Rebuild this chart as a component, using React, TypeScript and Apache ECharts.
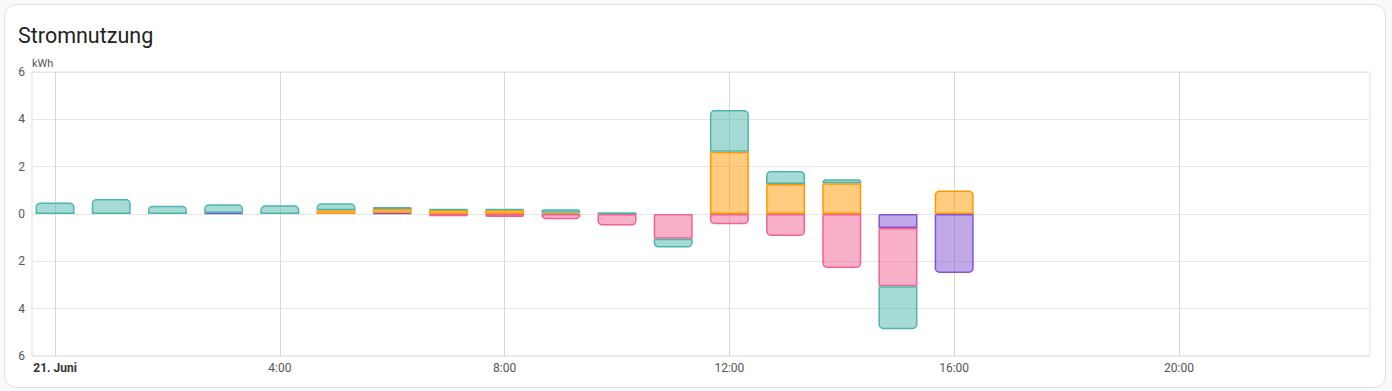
import { useEffect, useRef } from "react";
import * as echarts from "echarts";

const hourCategories = [
  "0", "1", "2", "3", "4", "5", "6", "7", "8", "9", "10", "11",
  "12", "13", "14", "15", "16", "17", "18", "19", "20", "21", "22", "23",
];
const purple = [0, 0, 0, 0.04, 0, 0, 0.04, 0, 0, 0, 0, 0, 0, 0, 0, -0.59, -2.49];
const orange = [0, 0, 0, 0, 0, 0.16, 0.17, 0.17, 0.17, 0.05, 0, 0, 2.63, 1.27, 1.3, 0, 0.99];
const pink = [0, 0, 0, 0, 0, 0, 0, -0.1, -0.13, -0.22, -0.49, -1.05, -0.43, -0.93, -2.28, -2.46, 0];
const tealUp = [0.49, 0.63, 0.35, 0.37, 0.37, 0.29, 0.09, 0.03, 0.04, 0.15, 0.07, 0, 1.76, 0.55, 0.17, 0, 0];
const tealDown = [0, 0, 0, 0, 0, 0, 0, 0, 0, 0, 0, -0.37, 0, 0, 0, -1.82, 0];
const xTicks = [0, 4, 8, 12, 16, 20];
const yTicks = [-6, -4, -2, 0, 2, 4, 6];
const dayLabel = "21. Juni";

const seriesDefs = [
  { name: "purple", values: purple, color: "#8353d1", fill: "rgba(131,83,209,0.5)" },
  { name: "orange", values: orange, color: "#ff9800", fill: "rgba(255,152,0,0.5)" },
  { name: "pink", values: pink, color: "#f06292", fill: "rgba(240,98,146,0.5)" },
  { name: "tealUp", values: tealUp, color: "#4db6ac", fill: "rgba(77,182,172,0.5)" },
  { name: "tealDown", values: tealDown, color: "#4db6ac", fill: "rgba(77,182,172,0.5)" },
];

// layout (pixels)
const W = 1392;
const GRID_LEFT = 32;
const GRID_RIGHT = 22;
const X_MIN = -0.41;
const X_MAX = 23.4;

export default function App() {
  const ref = useRef<HTMLDivElement>(null);
  useEffect(() => {
    const chart = echarts.init(ref.current!, null, { renderer: "svg" });
    const pxPerHour = (W - GRID_LEFT - GRID_RIGHT) / (X_MAX - X_MIN);
    const catLeft = GRID_LEFT + (-0.5 - X_MIN) * pxPerHour;
    const catRight = W - (catLeft + hourCategories.length * pxPerHour);

    const n = purple.length;
    const topIdx: number[] = [];
    const botIdx: number[] = [];
    for (let i = 0; i < n; i++) {
      topIdx[i] = -1;
      botIdx[i] = -1;
      seriesDefs.forEach((s, si) => {
        if (s.values[i] > 0) topIdx[i] = si;
        if (s.values[i] < 0) botIdx[i] = si;
      });
    }
    const series = seriesDefs.map((s, si) => ({
      name: s.name,
      type: "bar",
      stack: "usage",
      xAxisIndex: 1,
      yAxisIndex: 1,
      barWidth: 39,
      itemStyle: { color: s.fill, borderColor: s.color, borderWidth: 1.5 },
      data: s.values.map((v, i) => {
        if (!v) return "-";
        let r: number[] = [0, 0, 0, 0];
        if (v > 0 && topIdx[i] === si) r = [4, 4, 0, 0];
        if (v < 0 && botIdx[i] === si) r = [0, 0, 4, 4];
        return { value: v, itemStyle: { borderRadius: r } };
      }),
    }));
    chart.setOption({
      animation: false,
      textStyle: { fontFamily: "Roboto" },
      title: {
        text: "Stromnutzung",
        left: 18,
        top: 24,
        padding: 0,
        textStyle: { fontSize: 21.5, fontWeight: "normal", color: "#212121", fontFamily: "Roboto" },
      },
      graphic: [
        {
          type: "text",
          left: 32,
          top: 58,
          style: { text: "kWh", fontSize: 11, fill: "#555", fontFamily: "Roboto" },
        },
      ],
      grid: [
        {
          left: GRID_LEFT,
          right: GRID_RIGHT,
          top: 72,
          bottom: 35,
          show: true,
          borderColor: "#e0e0e0",
          borderWidth: 1,
        },
        { left: catLeft, right: catRight, top: 72, bottom: 35 },
      ],
      xAxis: [
        {
          type: "value",
          gridIndex: 0,
          min: X_MIN,
          max: X_MAX,
          axisLine: { show: false },
          axisTick: { show: false, customValues: xTicks },
          splitLine: { show: true, lineStyle: { color: "#d6d6d6" } },
          axisLabel: {
            customValues: xTicks,
            color: "#555",
            fontSize: 12,
            margin: 6,
            formatter: (v: number) => (v === 0 ? `{b|${dayLabel}}` : `${v}:00`),
            rich: { b: { fontWeight: "bold", color: "#333", fontSize: 12 } },
          },
        },
        {
          type: "category",
          gridIndex: 1,
          data: hourCategories,
          show: false,
        },
      ],
      yAxis: [
        {
          type: "value",
          gridIndex: 0,
          min: yTicks[0],
          max: yTicks[yTicks.length - 1],
          interval: 2,
          axisLine: { show: false },
          axisTick: { show: false },
          splitLine: { lineStyle: { color: "#e6e6e6" } },
          axisLabel: {
            color: "#555",
            fontSize: 12,
            margin: 7,
            formatter: (v: number) => String(Math.abs(v)),
          },
        },
        {
          type: "value",
          gridIndex: 1,
          min: yTicks[0],
          max: yTicks[yTicks.length - 1],
          interval: 2,
          show: false,
          splitLine: { show: false },
        },
      ],
      series,
    });
    return () => chart.dispose();
  }, []);
  return (
    <div style={{ position: "fixed", left: 0, top: 0, width: 1392, height: 391, background: "#fafafa" }}>
      <div
        style={{
          position: "absolute",
          left: 4,
          top: 4,
          width: 1380,
          height: 382,
          border: "1px solid #e0e0e0",
          borderRadius: 12,
          background: "#fff",
        }}
      />
      <div ref={ref} style={{ position: "absolute", left: 0, top: 0, width: 1392, height: 391 }} />
    </div>
  );
}
